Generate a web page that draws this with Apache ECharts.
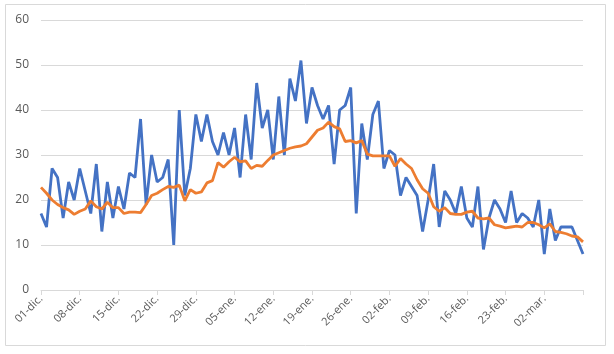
<!DOCTYPE html>
<html>
<head>
<meta charset="utf-8">
<script src="https://cdn.jsdelivr.net/npm/echarts@6/dist/echarts.min.js"></script>
<style>
  html, body { margin: 0; padding: 0; background: #fff; }
  #chart { width: 614px; height: 354px; }
</style>
</head>
<body>
<div id="chart"></div>
<script>
// months covered by the chart: [suffix, days shown]
const months = [['dic.', 31], ['ene.', 31], ['feb.', 28], ['mar.', 9]]

const days = []
months.forEach(([m, n]) => {
  for (let d = 1; d <= n; d++) days.push(String(d).padStart(2, '0') + '-' + m)
})

// daily values (blue)
const daily = [
  17, 14, 27, 25, 16, 24, 20, 27, 22, 17,
  28, 13, 24, 16, 23, 18, 26, 25, 38, 19,
  30, 24, 25, 29, 10, 40, 21, 27, 39, 33,
  39, 33, 30, 35, 30, 36, 25, 39, 29, 46,
  36, 40, 29, 43, 30, 47, 42, 51, 37, 45,
  41, 38, 41, 28, 40, 41, 45, 17, 37, 29,
  39, 42, 27, 31, 30, 21, 25, 23, 21, 13,
  20, 28, 14, 22, 20, 17, 23, 16, 14, 23,
  9, 16, 20, 18, 15, 22, 15, 17, 16, 14,
  20, 8, 18, 11, 14, 14, 14, 11, 8
]

// trend values (orange)
const trend = [
  22.8, 21.5, 20, 19, 18.3, 17.8, 16.8, 17.5, 18, 19.8,
  18.5, 18, 19.5, 18.3, 18.3, 17, 17.3, 17.3, 17.2, 19,
  21, 21.5, 22.3, 23, 22.8, 23.3, 19.8, 22.3, 21.5, 21.8,
  23.8, 24.3, 28.3, 27.3, 28.5, 29.5, 28.5, 28.7, 27, 27.7,
  27.5, 28.8, 30, 30.5, 31, 31.5, 31.8, 32, 32.5, 34,
  35.5, 36, 37.3, 36.3, 35.8, 33, 33.2, 32.7, 33.2, 30.2,
  29.8, 29.8, 29.8, 29.8, 27.5, 29.2, 28, 27, 24.5, 22.5,
  21.5, 18.5, 17.5, 18.3, 17, 16.8, 16.8, 17.3, 17.5, 16,
  15.8, 16, 14.5, 14.2, 13.8, 14, 14.2, 14, 15, 15,
  14.5, 13.8, 14.7, 13, 12.8, 12.5, 12, 11.8, 10.7
]

const chart = echarts.init(document.getElementById('chart'))

chart.setOption({
  animation: false,
  backgroundColor: '#fff',
  graphic: [{
    type: 'rect',
    shape: { x: 5.5, y: 4.5, width: 600, height: 341 },
    style: { fill: 'none', stroke: '#d9d9d9', lineWidth: 1 },
    silent: true,
  }],
  grid: {
    left: 41,
    right: 31,
    top: 20,
    bottom: 64,
  },
  xAxis: {
    type: 'category',
    data: days,
    boundaryGap: false,
    axisLine: {
      lineStyle: { color: '#d9d9d9', width: 1 },
    },
    axisTick: {
      interval: 6,
      length: 5,
      lineStyle: { color: '#d9d9d9' },
    },
    axisLabel: {
      interval: (idx) => idx % 7 === 0 && idx < days.length - 1,
      rotate: 45,
      margin: 7,
      color: '#595959',
      fontSize: 11,
      fontFamily: 'Open Sans',
    },
  },
  yAxis: {
    type: 'value',
    min: 0,
    max: 60,
    interval: 10,
    axisLine: { show: false },
    axisTick: { show: false },
    axisLabel: {
      color: '#595959',
      fontSize: 12,
      fontFamily: 'Open Sans',
      margin: 12,
    },
    splitLine: {
      lineStyle: { color: '#d9d9d9' },
    },
  },
  series: [
    {
      name: 'diario',
      type: 'line',
      data: daily,
      symbol: 'none',
      lineStyle: { width: 2.8, color: '#4472c4' },
      itemStyle: { color: '#4472c4' },
    },
    {
      name: 'media',
      type: 'line',
      data: trend,
      symbol: 'none',
      lineStyle: { width: 2.8, color: '#ed7d31' },
      itemStyle: { color: '#ed7d31' },
    },
  ],
})
</script>
</body>
</html>
